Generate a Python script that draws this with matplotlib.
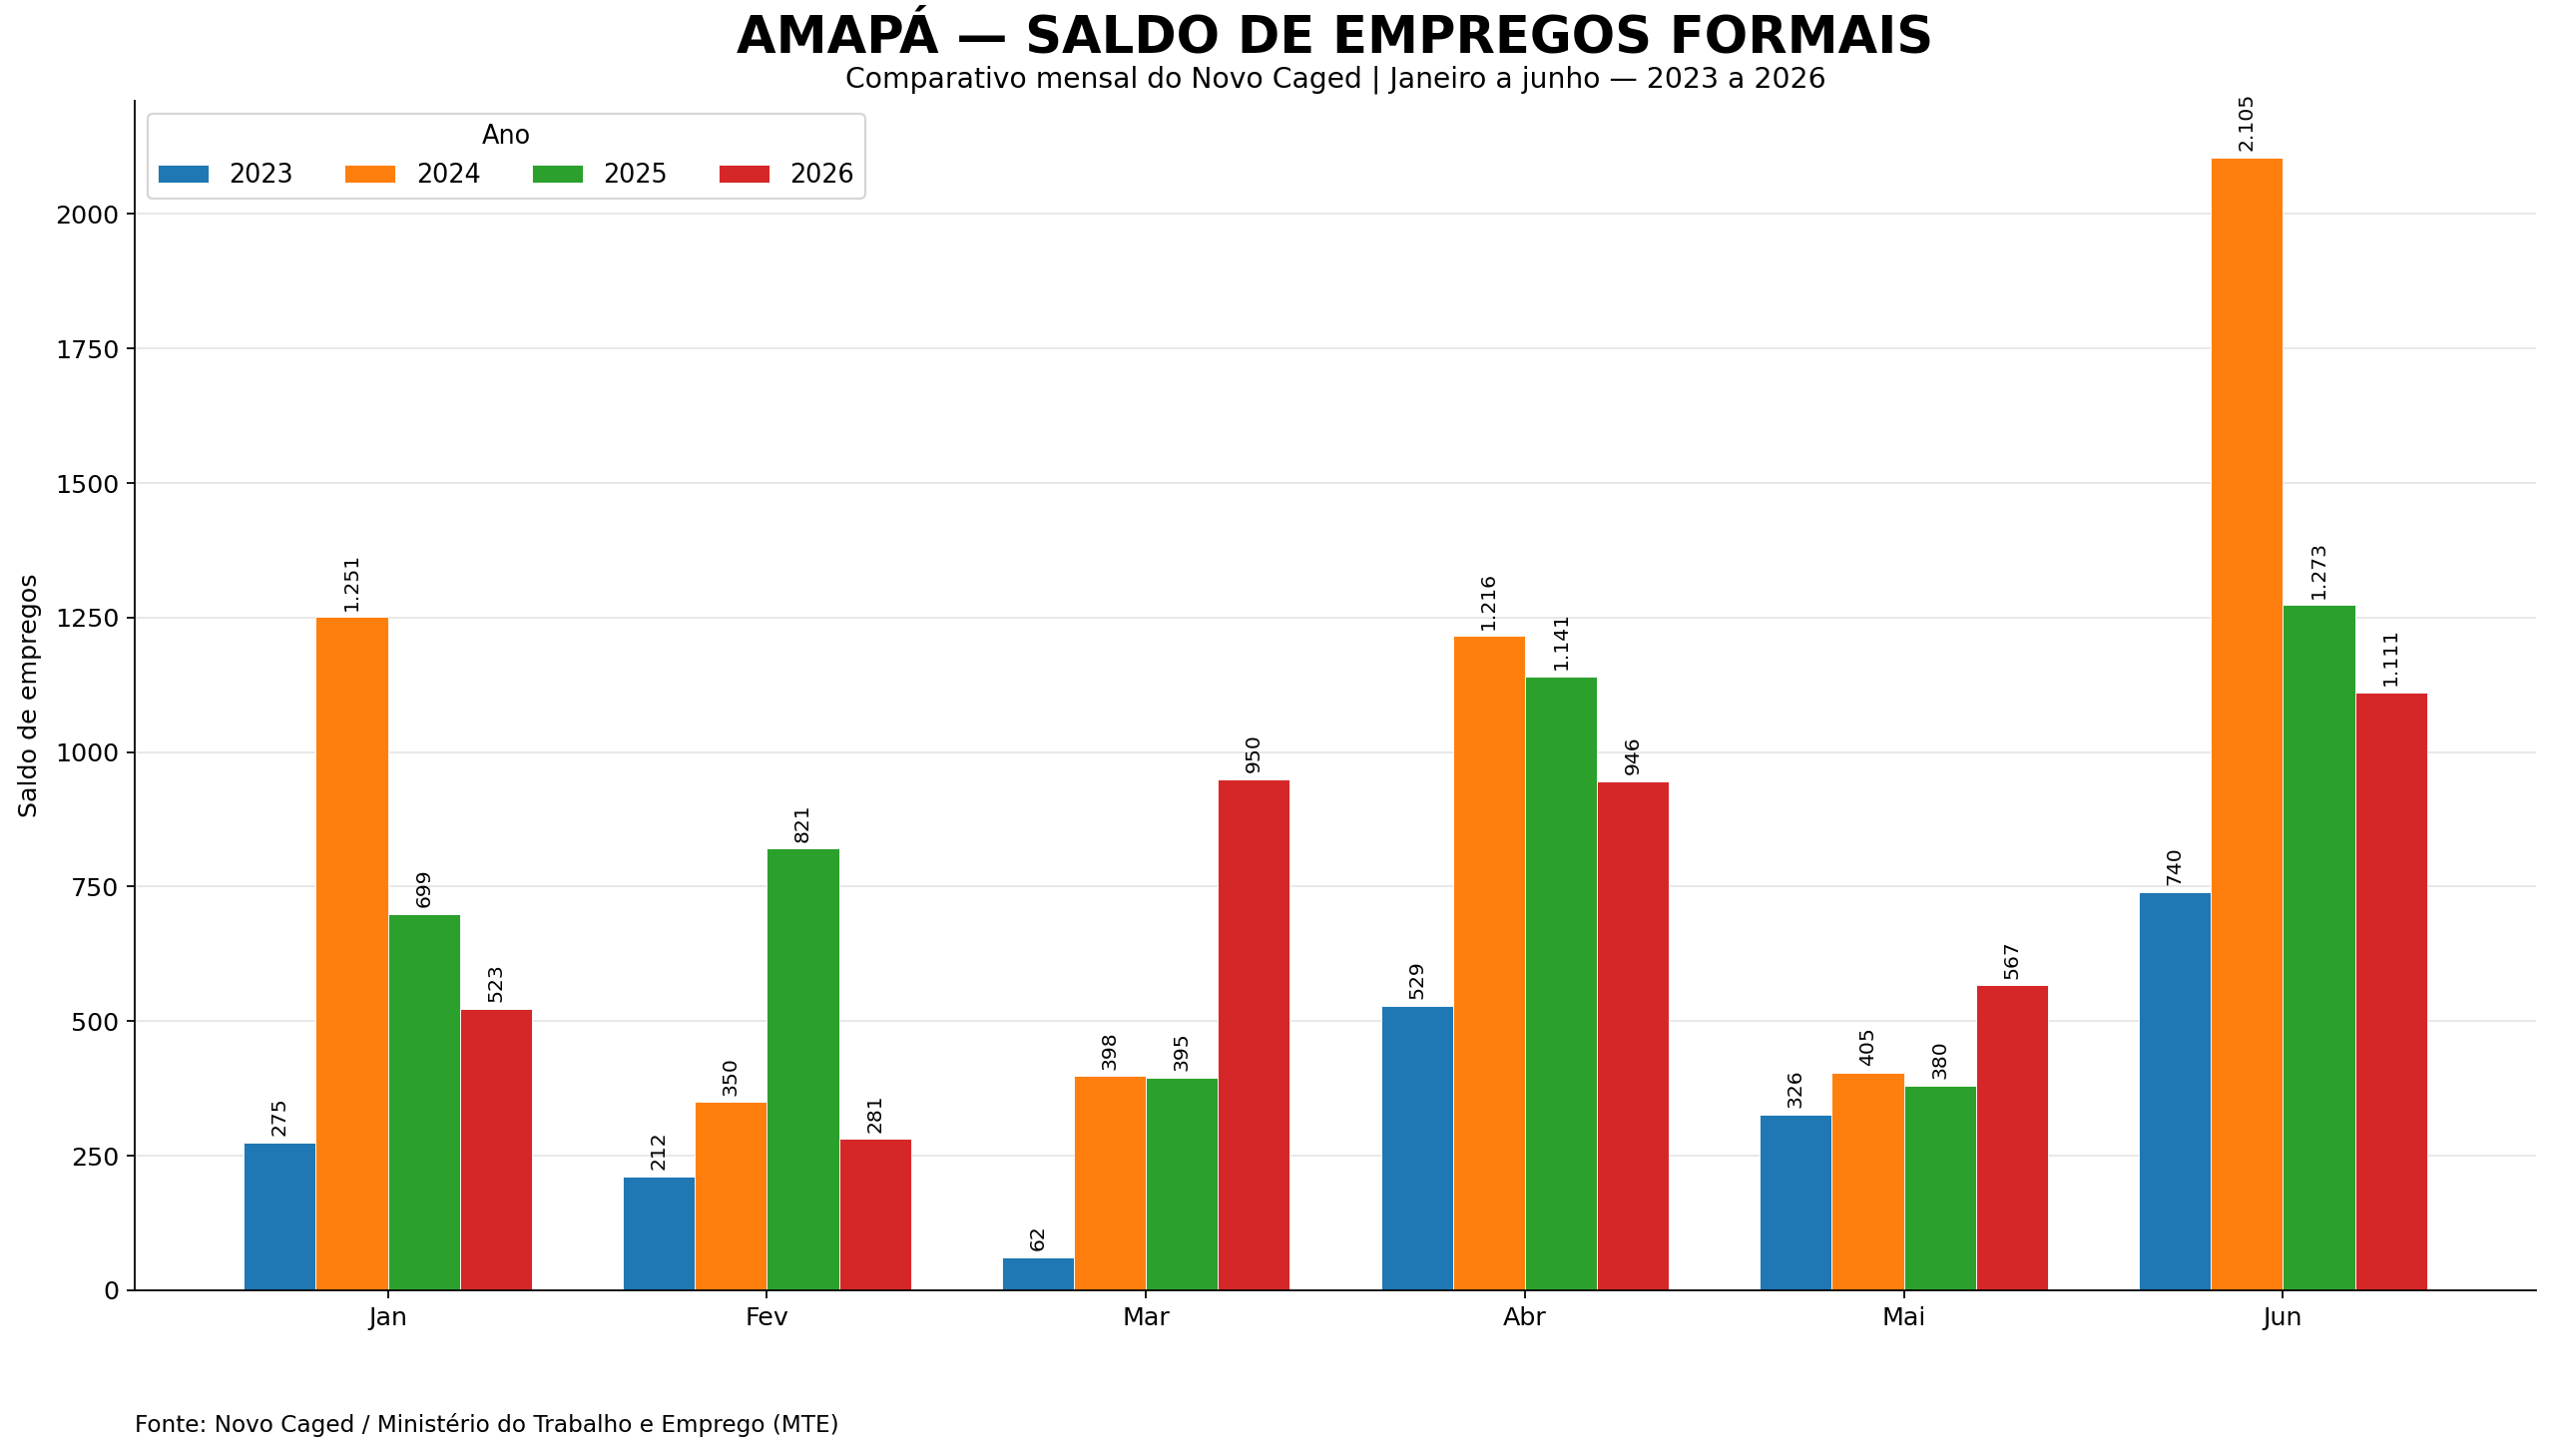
import matplotlib
matplotlib.use("Agg")
import matplotlib.pyplot as plt
import numpy as np

months = ["Jan", "Fev", "Mar", "Abr", "Mai", "Jun"]
years = ["2023", "2024", "2025", "2026"]
v2023 = [275, 212, 62, 529, 326, 740]
v2024 = [1251, 350, 398, 1216, 405, 2105]
v2025 = [699, 821, 395, 1141, 380, 1273]
v2026 = [523, 281, 950, 946, 567, 1111]
series = [v2023, v2024, v2025, v2026]
colors = ["#1f77b4", "#ff7f0e", "#2ca02c", "#d62728"]

fig = plt.figure(figsize=(16, 9.11875), dpi=160)
ax_left, ax_w = 0.0527, 0.9399
ax = fig.add_axes([ax_left, 0.1138, ax_w, 0.817])
cx = ax_left + ax_w / 2

x = np.arange(len(months))
w = 0.19
for i, (yr, vals, c) in enumerate(zip(years, series, colors)):
    bars = ax.bar(x + (i - 1.5) * w, vals, w, label=yr, color=c,
                  edgecolor="white", linewidth=0.4)
    ax.bar_label(bars, labels=[f"{v:,}".replace(",", ".") for v in vals],
                 padding=3, rotation=90, fontsize=9.2)

ax.set_xticks(x)
ax.set_xticklabels(months, fontsize=11.4)
ax.tick_params(axis="y", labelsize=11.4)
ax.set_ylim(0, max(max(s) for s in series) * 1.05)
ax.set_ylabel("Saldo de empregos", fontsize=11.4, labelpad=6)
ax.yaxis.grid(True, color="#e6e6e6", linewidth=0.8)
ax.set_axisbelow(True)
ax.spines["top"].set_visible(False)
ax.spines["right"].set_visible(False)

leg = ax.legend(title="Ano", ncol=4, loc="upper left", fontsize=11.5,
                title_fontsize=11.5)

fig.text(cx, 0.9735, "AMAPÁ — SALDO DE EMPREGOS FORMAIS", ha="center",
         va="center", fontsize=23, fontweight="bold")
fig.text(cx, 0.9455, "Comparativo mensal do Novo Caged | Janeiro a junho — 2023 a 2026",
         ha="center", va="center", fontsize=12.7)
fig.text(ax_left, 0.021, "Fonte: Novo Caged / Ministério do Trabalho e Emprego (MTE)",
         ha="left", va="center", fontsize=10.4)

fig.savefig("out.png", dpi=160)
